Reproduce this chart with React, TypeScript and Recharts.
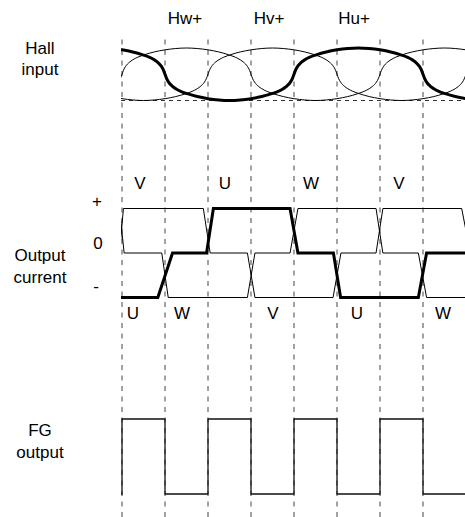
import React from 'react';
import { ComposedChart, Line, XAxis, YAxis, ReferenceLine } from 'recharts';

// ---------- data ----------
// commutation boundaries (electrical degrees)
const boundaryAngles = [0, 60, 120, 180, 240, 300, 360, 420];

// one upper half-arc of a hall signal: [offset deg, level]
const hallArcProfile: [number, number][] = [
  [0, 0], [2, 0.15], [5, 0.3], [10, 0.45], [15, 0.55], [22, 0.65], [31, 0.74],
  [45, 0.85], [60, 0.93], [75, 0.98], [90, 1], [105, 0.98], [120, 0.93],
  [135, 0.85], [149, 0.74], [158, 0.65], [165, 0.55], [170, 0.45], [175, 0.3],
  [178, 0.15], [180, 0],
];
// angle where each hall signal crosses upward
const hallRiseU = 240;
const hallRiseV = 120;
const hallRiseW = 0;

// output currents: [deg, level] (+1, 0, -1)
const currentU: [number, number][] = [
  [-20, -1], [50, -1], [70.5, 0], [118, 0], [127.5, 1], [234.5, 1], [245.5, 0],
  [295, 0], [305, -1], [413.5, -1], [425, 0], [500, 0],
];
const currentV: [number, number][] = [
  [-20, 0], [-3.5, 0], [2, 1], [113.5, 1], [123, 0], [175, 0], [185.5, -1],
  [294.5, -1], [305.5, 0], [354.5, 0], [364, 1], [474, 1], [486, 0], [500, 0],
];
const currentW: [number, number][] = [
  [-20, 1], [-3.5, 1], [3, 0], [55.5, 0], [64.5, -1], [175, -1], [185.5, 0],
  [234.5, 0], [245.5, 1], [354.5, 1], [364, 0], [413.5, 0], [425, -1], [500, -1],
];

// FG output (step after)
const fgOutput: [number, number][] = [
  [-10, 0], [0, 1], [60, 0], [120, 1], [180, 0], [240, 1], [300, 0], [360, 1], [420, 0], [500, 0],
];

// text
const sectionLabels = [
  { t: 'Hall', x: 40, y: 54 }, { t: 'input', x: 40, y: 75 },
  { t: 'Output', x: 40, y: 261 }, { t: 'current', x: 40, y: 283 },
  { t: 'FG', x: 40, y: 436 }, { t: 'output', x: 40, y: 458 },
];
const levelLabels = [
  { t: '+', x: 97, y: 207 }, { t: '0', x: 98, y: 249 }, { t: '-', x: 96, y: 292 },
];
const hallLabels = [
  { t: 'Hw+', x: 185, y: 24 }, { t: 'Hv+', x: 269, y: 24 }, { t: 'Hu+', x: 354, y: 24 },
];
const upperPhaseLabels = [
  { t: 'V', x: 140 }, { t: 'U', x: 225 }, { t: 'W', x: 311 }, { t: 'V', x: 399 },
];
const lowerPhaseLabels = [
  { t: 'U', x: 133 }, { t: 'W', x: 182 }, { t: 'V', x: 273 }, { t: 'U', x: 357 }, { t: 'W', x: 443 },
];

// ---------- layout ----------
const W = 465;
const H = 517;
const PLOT_TOP = 36;
const PLOT_LEFT = 121;
const X_DOMAIN: [number, number] = [-1.4, 478.6];
const FONT = '"Liberation Sans", Arial, Helvetica, sans-serif';

function domainFrom(vHi: number, pHi: number, vLo: number, pLo: number): [number, number] {
  const s = (pLo - pHi) / (vHi - vLo);
  return [vHi - (H - pHi) / s, vHi + (pHi - PLOT_TOP) / s];
}
const hallDomain = domainFrom(1, 48, -1, 100.5);
const currentDomain = domainFrom(1, 208.5, -1, 297.5);
const fgDomain = domainFrom(1, 419, 0, 494);

function buildHall(rise: number) {
  const pts: { x: number; y: number }[] = [];
  for (let k = -2; k <= 2; k++) {
    const start = rise + 360 * k;
    hallArcProfile.forEach(([o, v]) => pts.push({ x: start + o, y: v }));
    hallArcProfile.forEach(([o, v]) => pts.push({ x: start + 180 + o, y: -v }));
  }
  pts.sort((a, b) => a.x - b.x);
  const out: { x: number; y: number }[] = [];
  pts.forEach((p) => {
    if (p.x < -200 || p.x > 700) return;
    if (out.length && Math.abs(out[out.length - 1].x - p.x) < 1e-9) return;
    out.push(p);
  });
  return out;
}
const toXY = (arr: [number, number][]) => arr.map(([x, y]) => ({ x, y }));

const hallU = buildHall(hallRiseU);
const hallV = buildHall(hallRiseV);
const hallW = buildHall(hallRiseW);

export default function App() {
  const common = { dataKey: 'y', dot: false, activeDot: false, isAnimationActive: false, stroke: '#000' } as const;
  return (
    <div style={{ position: 'absolute', left: 0, top: 0, width: W, height: H, background: '#fff' }}>
      <ComposedChart width={W} height={H} margin={{ top: PLOT_TOP, right: 0, bottom: 0, left: PLOT_LEFT }}>
        <XAxis dataKey="x" type="number" domain={X_DOMAIN} allowDataOverflow hide />
        <YAxis yAxisId="hall" type="number" domain={hallDomain} allowDataOverflow hide />
        <YAxis yAxisId="cur" type="number" domain={currentDomain} allowDataOverflow hide />
        <YAxis yAxisId="fg" type="number" domain={fgDomain} allowDataOverflow hide />

        {boundaryAngles.map((a) => (
          <ReferenceLine key={a} x={a} yAxisId="fg" stroke="#444" strokeWidth={1} strokeDasharray="5 5.5" />
        ))}
        <ReferenceLine y={-1} yAxisId="hall" stroke="#333" strokeWidth={1} strokeDasharray="4 4" />

        <Line {...common} data={hallV} yAxisId="hall" type="monotone" strokeWidth={1} />
        <Line {...common} data={hallW} yAxisId="hall" type="monotone" strokeWidth={1} />
        <Line {...common} data={hallU} yAxisId="hall" type="monotone" strokeWidth={3} />

        <Line {...common} data={toXY(currentV)} yAxisId="cur" type="linear" strokeWidth={1} />
        <Line {...common} data={toXY(currentW)} yAxisId="cur" type="linear" strokeWidth={1} />
        <Line {...common} data={toXY(currentU)} yAxisId="cur" type="linear" strokeWidth={3} />

        <Line {...common} data={toXY(fgOutput)} yAxisId="fg" type="stepAfter" strokeWidth={1.3} stroke="#111" />
      </ComposedChart>
      <svg width={W} height={H} style={{ position: 'absolute', left: 0, top: 0, pointerEvents: 'none' }}>
        <g fontFamily={FONT} fontSize={17} fill="#000" textAnchor="middle">
          {sectionLabels.map((l, i) => (
            <text key={'s' + i} x={l.x} y={l.y}>{l.t}</text>
          ))}
          {levelLabels.map((l, i) => (
            <text key={'l' + i} x={l.x} y={l.y}>{l.t}</text>
          ))}
          {hallLabels.map((l, i) => (
            <text key={'h' + i} x={l.x} y={l.y}>{l.t}</text>
          ))}
          {upperPhaseLabels.map((l, i) => (
            <text key={'u' + i} x={l.x} y={189}>{l.t}</text>
          ))}
          {lowerPhaseLabels.map((l, i) => (
            <text key={'d' + i} x={l.x} y={319}>{l.t}</text>
          ))}
        </g>
      </svg>
    </div>
  );
}
